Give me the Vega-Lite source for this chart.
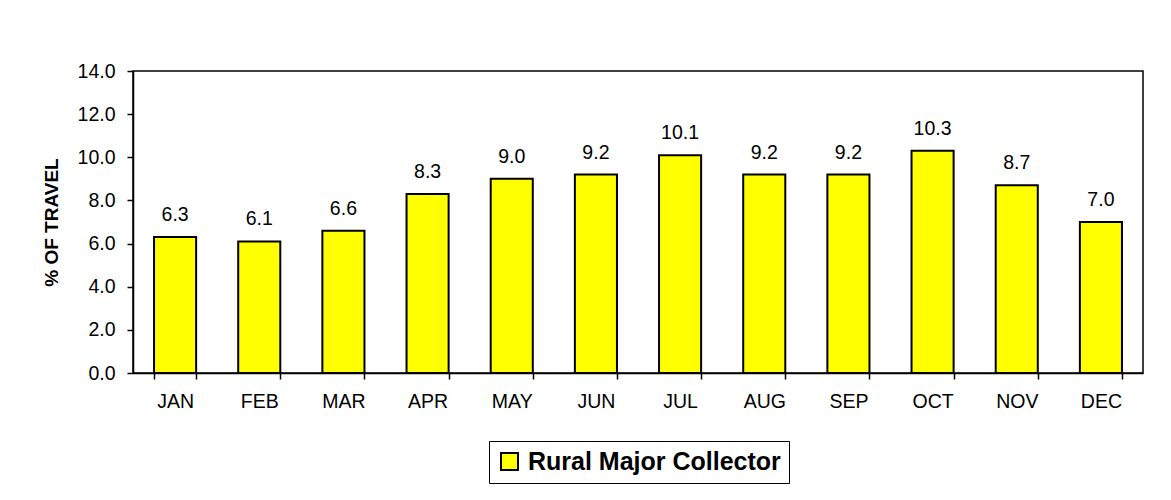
{
  "$schema": "https://vega.github.io/schema/vega-lite/v6.json",
  "width": 1010,
  "height": 302,
  "autosize": {"type": "none"},
  "padding": {"left": 133, "top": 71, "right": 28, "bottom": 127},
  "background": "white",
  "config": {
    "font": "Liberation Sans",
    "view": {"stroke": "black", "strokeWidth": 1.5},
    "axis": {"grid": false, "domainColor": "black", "tickColor": "black", "labelColor": "black", "titleColor": "black", "domainWidth": 1.5, "tickWidth": 1.5}
  },
  "data": {
    "values": [
      {"month": "JAN", "pct": 6.3, "series": "Rural Major Collector"},
      {"month": "FEB", "pct": 6.1, "series": "Rural Major Collector"},
      {"month": "MAR", "pct": 6.6, "series": "Rural Major Collector"},
      {"month": "APR", "pct": 8.3, "series": "Rural Major Collector"},
      {"month": "MAY", "pct": 9.0, "series": "Rural Major Collector"},
      {"month": "JUN", "pct": 9.2, "series": "Rural Major Collector"},
      {"month": "JUL", "pct": 10.1, "series": "Rural Major Collector"},
      {"month": "AUG", "pct": 9.2, "series": "Rural Major Collector"},
      {"month": "SEP", "pct": 9.2, "series": "Rural Major Collector"},
      {"month": "OCT", "pct": 10.3, "series": "Rural Major Collector"},
      {"month": "NOV", "pct": 8.7, "series": "Rural Major Collector"},
      {"month": "DEC", "pct": 7.0, "series": "Rural Major Collector"}
    ]
  },
  "encoding": {
    "x": {
      "field": "month", "type": "nominal", "sort": null,
      "scale": {"paddingInner": 0.5, "paddingOuter": 0.25},
      "axis": {"title": null, "labelAngle": 0, "labelFontSize": 19.5, "labelPadding": 13, "tickSize": 6, "tickBand": "extent"}
    },
    "y": {
      "field": "pct", "type": "quantitative",
      "scale": {"domain": [0, 14], "nice": false},
      "axis": {"title": "% OF TRAVEL", "titleFontSize": 19, "titleFontWeight": "bold", "titlePadding": 16, "values": [0, 2, 4, 6, 8, 10, 12, 14], "format": ".1f", "labelFontSize": 19.5, "labelPadding": 12, "tickSize": 6}
    }
  },
  "layer": [
    {
      "mark": {"type": "bar", "stroke": "black", "strokeWidth": 2},
      "encoding": {
        "color": {
          "field": "series", "type": "nominal",
          "scale": {"range": ["#FFFF00"]},
          "legend": {
            "title": null, "orient": "none", "legendX": 356, "legendY": 370,
            "direction": "horizontal",
            "strokeColor": "black", "padding": 8,
            "symbolType": "square", "symbolSize": 289, "symbolStrokeColor": "black", "symbolStrokeWidth": 2, "symbolOpacity": 1,
            "labelFontSize": 25, "labelFontWeight": "bold", "labelColor": "black", "labelOffset": 6, "labelLimit": 500
          }
        }
      }
    },
    {
      "mark": {"type": "text", "baseline": "alphabetic", "dy": -16, "fontSize": 19.5, "color": "black"},
      "encoding": {"text": {"field": "pct", "type": "quantitative", "format": ".1f"}}
    }
  ]
}
